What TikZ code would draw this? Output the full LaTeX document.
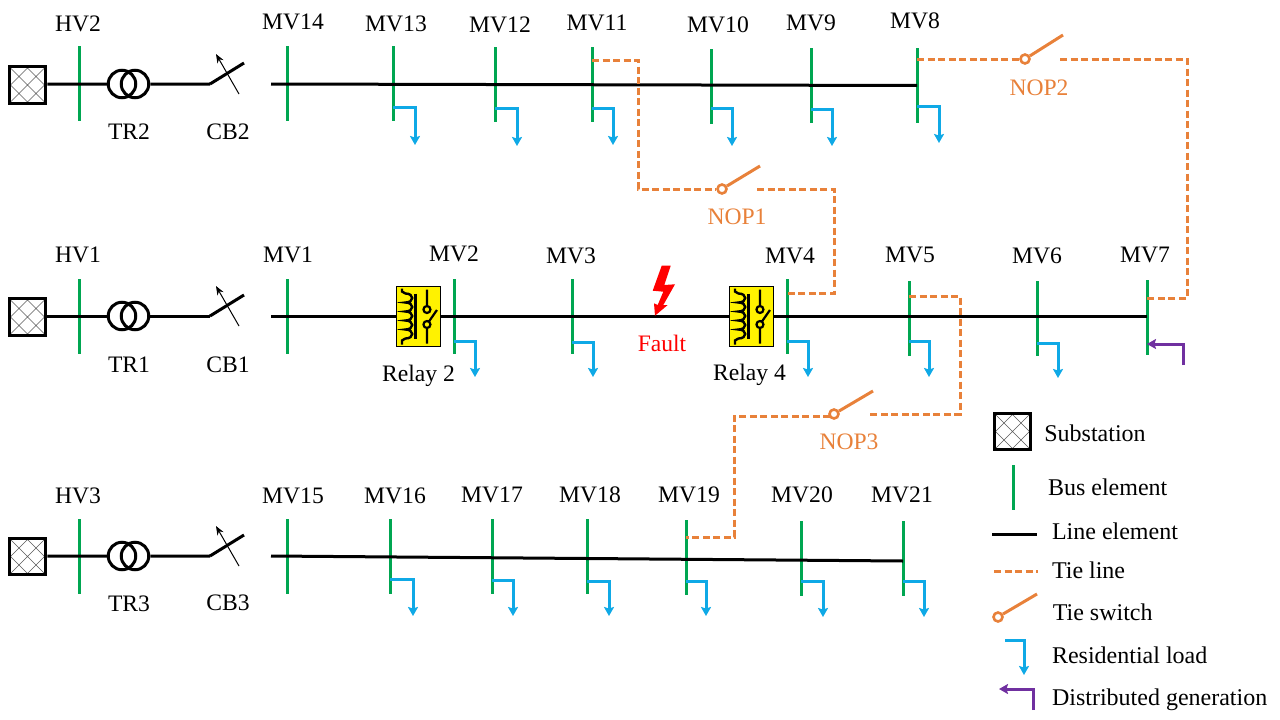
\documentclass[tikz,border=0pt]{standalone}
\usepackage{fontspec}
\setmainfont{Liberation Serif}
\usepackage{xcolor}
\usetikzlibrary{positioning,arrows.meta}

\definecolor{busgreen}{HTML}{00A651}
\definecolor{tieorange}{HTML}{E8813A}
\definecolor{loadblue}{HTML}{0FA9E6}
\definecolor{dgpurple}{HTML}{7030A0}

\begin{document}
\begin{tikzpicture}[
    x=1pt, y=-1pt,
    lbl/.style={inner sep=0pt, outer sep=0pt, font=\fontsize{23.6}{27}\selectfont},
    leglbl/.style={lbl, font=\fontsize{24}{27}\selectfont},
    substation/.style={rectangle, draw, line width=3.2pt, minimum size=36.5pt, inner sep=0pt,
        path picture={\begin{scope}[shift=(path picture bounding box.center)]
            \draw[black!65, line width=0.5pt] (-20,20) -- (20,-20) (-20,3) -- (3,-20) (-3,20) -- (20,-3)
                (-20,-20) -- (20,20) (-20,-3) -- (3,20) (-3,-20) -- (20,3);
        \end{scope}}},
    bus/.style={rectangle, fill=busgreen, minimum width=3pt, minimum height=75pt, inner sep=0pt, outer sep=0pt},
    xfmr/.style={circle, draw, line width=3pt, minimum size=27.5pt, inner sep=0pt},
    wire/.style={line width=3pt},
    tie/.style={tieorange, line width=3pt, dash pattern=on 7pt off 3.5pt},
    tiesw/.style={circle, draw=tieorange, line width=2.6pt, minimum size=9pt, inner sep=0pt},
    blade/.style={tieorange, line width=3pt},
    loadarr/.style={loadblue, line width=3pt, -{Stealth[length=9pt,width=10pt,inset=1.5pt]}},
    dgarr/.style={dgpurple, line width=3pt, -{Stealth[length=9pt,width=10pt,inset=1.5pt]}},
    relay/.style={rectangle, draw, fill=yellow, line width=1pt, minimum width=44.5pt, minimum height=59.5pt, inner sep=0pt, outer sep=0pt},
    pics/breaker/.style={code={
        \draw[wire] (0,0) -- (34,-21);
        \draw[line width=1pt, -{Stealth[length=9pt,width=7pt]}] (29,10) -- (6,-30);
    }},
    pics/relaysym/.style={code={
        \draw[line width=2.4pt] (-16.5,-28) -- (-16.5,-25) -- (-13,-23)
            .. controls (-4,-23) and (-4,-14) .. (-13,-14)
            .. controls (-4,-14) and (-4,-5) .. (-13,-5)
            .. controls (-4,-5) and (-4,4) .. (-13,4)
            .. controls (-4,4) and (-4,13) .. (-13,13)
            .. controls (-4,13) and (-4,22) .. (-13,22) -- (-16.5,24) -- (-16.5,28);
        \draw[line width=2.6pt] (-3.2,-23) -- (-3.2,22);
        \draw[line width=2.2pt] (8.5,-27) -- (8.5,-10.5) (8.5,-7) circle[radius=3.5pt]
            (8.5,8) circle[radius=3.5pt] (8.5,11.5) -- (8.5,27) (10.5,5) -- (18.5,-6.5);
    }},
]
\useasboundingbox (0,0) rectangle (1280,720);

% top feeder
\node[substation] (sub2) at (27.5,85) {};
\node[bus] (hv2) at (79,83.5) {};
\node[xfmr] (tr2a) at (122,84) {};
\node[xfmr] (tr2b) at (135,84) {};
\coordinate (cb2p) at (210,84);
\coordinate (feed2) at (271,84);
\node[bus] (mv14) at (287,83.5) {};
\node[bus, right=103pt of mv14] (mv13) {};
\node[bus, right=99pt of mv13, yshift=-1pt] (mv12) {};
\node[bus, right=94pt of mv12] (mv11) {};
\node[bus, right=116pt of mv11, yshift=-2pt] (mv10) {};
\node[bus, right=97pt of mv10, yshift=1pt] (mv9) {};
\node[bus, right=103pt of mv9] (mv8) {};

% middle feeder
\node[substation] (sub1) at (27.5,317) {};
\node[bus] (hv1) at (79,316.5) {};
\node[xfmr] (tr1a) at (122,316) {};
\node[xfmr] (tr1b) at (135,316) {};
\coordinate (cb1p) at (210,316);
\coordinate (feed1) at (271,316);
\node[bus] (mv1) at (287,316.5) {};
\node[bus, right=164pt of mv1] (mv2) {};
\node[bus, right=115pt of mv2] (mv3) {};
\node[bus, right=212pt of mv3] (mv4) {};
\node[bus, right=119pt of mv4, yshift=-2pt] (mv5) {};
\node[bus, right=125pt of mv5] (mv6) {};
\node[bus, right=107pt of mv6, yshift=1pt] (mv7) {};

% bottom feeder
\node[substation] (sub3) at (27.5,556.5) {};
\node[bus] (hv3) at (79,556) {};
\node[xfmr] (tr3a) at (122,556) {};
\node[xfmr] (tr3b) at (135,556) {};
\coordinate (cb3p) at (210,556);
\coordinate (feed3) at (271,556);
\node[bus] (mv15) at (287,556) {};
\node[bus, right=100pt of mv15] (mv16) {};
\node[bus, right=99pt of mv16, yshift=-0.5pt] (mv17) {};
\node[bus, right=92pt of mv17] (mv18) {};
\node[bus, right=96pt of mv18, yshift=-1pt] (mv19) {};
\node[bus, right=112pt of mv19, yshift=-1pt] (mv20) {};
\node[bus, right=99pt of mv20] (mv21) {};

% lines
\draw[wire] (sub2.east |- tr2a) -- (tr2a) (tr2b) -- (cb2p) (feed2) -- (mv8.center);
\draw[wire] (sub1.east |- tr1a) -- (tr1a) (tr1b) -- (cb1p) (feed1) -- (feed1 -| mv7);
\draw[wire] (sub3.east |- tr3a) -- (tr3a) (tr3b) -- (cb3p) (feed3) -- ([yshift=-2.5pt]mv21.center);
\pic at (cb2p) {breaker};
\pic at (cb1p) {breaker};
\pic at (cb3p) {breaker};

% relays
\node[relay, left=11.8pt of mv2] (relay2) {};
\node[relay, left=11.8pt of mv4] (relay4) {};
\pic at (relay2) {relaysym};
\pic at (relay4) {relaysym};

% loads
\draw[loadarr] (mv13.center) ++(0,23.5) -| ++(22,38);
\draw[loadarr] (mv12.center) ++(0,23.5) -| ++(22,38);
\draw[loadarr] (mv11.center) ++(0,23.5) -| ++(21,37);
\draw[loadarr] (mv10.center) ++(0,21.5) -| ++(21,38);
\draw[loadarr] (mv9.center) ++(0,23.5) -| ++(21,37);
\draw[loadarr] (mv8.center) ++(0,20.5) -| ++(22,37);
\draw[loadarr] (mv2.center) ++(0,24.5) -| ++(21,36);
\draw[loadarr] (mv3.center) ++(0,25.5) -| ++(21,35);
\draw[loadarr] (mv4.center) ++(0,24.5) -| ++(21,36);
\draw[loadarr] (mv5.center) ++(0,22.5) -| ++(20,36);
\draw[loadarr] (mv6.center) ++(0,24.5) -| ++(21,35);
\draw[loadarr] (mv16.center) ++(0,23) -| ++(23,37);
\draw[loadarr] (mv17.center) ++(0,23.5) -| ++(21,36);
\draw[loadarr] (mv18.center) ++(0,24.5) -| ++(22,35);
\draw[loadarr] (mv19.center) ++(0,23.5) -| ++(20,35);
\draw[loadarr] (mv20.center) ++(0,22.5) -| ++(22,36);
\draw[loadarr] (mv21.center) ++(0,22.5) -| ++(21,36);
\coordinate (dg7) at (1183,365);
\draw[dgarr] (dg7) |- ([yshift=-26.5pt]mv7.center);

% tie switches and tie lines
\node[tiesw] (nop1sw) at (722,189) {};
\node[tiesw] (nop2sw) at (1025,59) {};
\node[tiesw] (nop3sw) at (834,414) {};
\coordinate (nop1e) at (757,189);
\coordinate (nop2e) at (1060,59);
\coordinate (nop3e) at (868,414);
\coordinate (nop3w) at (830,416);
\draw[blade] (nop1sw) -- ++(38,-23);
\draw[blade] (nop2sw) -- ++(38,-24);
\draw[blade] (nop3sw) -- ++(39,-23);
\draw[tie] ([yshift=24.5pt]mv11.center) -- ++(46,0) |- (nop1sw);
\draw[tie] (nop1e) -- ++(77,0) |- ([yshift=23.5pt]mv4.center);
\draw[tie] (mv8.center |- nop2sw) -- (nop2sw);
\draw[tie] (nop2e) -- ++(127,0) |- ([yshift=19.5pt]mv7.center);
\draw[tie] ([yshift=22.5pt]mv5.center) -- ++(51,0) |- (nop3e);
\draw[tie] (nop3w) -- ++(-96,0) |- ([yshift=20.5pt]mv19.center);

% fault
\fill[red] (661.7,265.7) -- (670.7,265.7) -- (664.3,285) -- (675,284.3) -- (663.3,305) -- (667.7,305)
    -- (655,315.7) -- (654,303.3) -- (657.7,305) -- (663.3,291.7) -- (652.7,290.7) -- cycle;
\node[lbl, text=red] (faultlbl) at (662,343) {Fault};

% labels
\node[lbl, above=14pt of hv2, xshift=-1pt] (hv2lbl) {HV2};
\node[lbl, above=16pt of mv14, xshift=6pt] (mv14lbl) {MV14};
\node[lbl, above=14pt of mv13, xshift=3pt] (mv13lbl) {MV13};
\node[lbl, above=14pt of mv12, xshift=5pt] (mv12lbl) {MV12};
\node[lbl, above=16pt of mv11, xshift=5pt] (mv11lbl) {MV11};
\node[lbl, above=16pt of mv10, xshift=7pt] (mv10lbl) {MV10};
\node[lbl, above=17pt of mv9] (mv9lbl) {MV9};
\node[lbl, above=19pt of mv8, xshift=-2pt] (mv8lbl) {MV8};
\node[lbl, above=16pt of hv1, xshift=-1pt] (hv1lbl) {HV1};
\node[lbl, above=16pt of mv1, xshift=1pt] (mv1lbl) {MV1};
\node[lbl, above=17pt of mv2] (mv2lbl) {MV2};
\node[lbl, above=15pt of mv3, xshift=-1pt] (mv3lbl) {MV3};
\node[lbl, above=15pt of mv4, xshift=3pt] (mv4lbl) {MV4};
\node[lbl, above=18pt of mv5, xshift=1pt] (mv5lbl) {MV5};
\node[lbl, above=17pt of mv6] (mv6lbl) {MV6};
\node[lbl, above=17pt of mv7, xshift=-2pt] (mv7lbl) {MV7};
\node[lbl, above=15pt of hv3, xshift=-1pt] (hv3lbl) {HV3};
\node[lbl, above=15pt of mv15, xshift=6pt] (mv15lbl) {MV15};
\node[lbl, above=15pt of mv16, xshift=5pt] (mv16lbl) {MV16};
\node[lbl, above=16pt of mv17] (mv17lbl) {MV17};
\node[lbl, above=16pt of mv18, xshift=3pt] (mv18lbl) {MV18};
\node[lbl, above=17pt of mv19, xshift=3pt] (mv19lbl) {MV19};
\node[lbl, above=18pt of mv20, xshift=1pt] (mv20lbl) {MV20};
\node[lbl, above=18pt of mv21, xshift=-1pt] (mv21lbl) {MV21};
\node[lbl, below=25pt of tr2a, xshift=7pt] (tr2lbl) {TR2};
\node[lbl, below=26pt of tr1a, xshift=7pt] (tr1lbl) {TR1};
\node[lbl, below=25pt of tr3a, xshift=7pt] (tr3lbl) {TR3};
\node[lbl, below=40pt of cb2p, xshift=18pt] (cb2lbl) {CB2};
\node[lbl, below=41pt of cb1p, xshift=18pt] (cb1lbl) {CB1};
\node[lbl, below=39pt of cb3p, xshift=18pt] (cb3lbl) {CB3};
\node[lbl, below=19pt of relay2] (relay2lbl) {Relay 2};
\node[lbl, below=18pt of relay4, xshift=-2pt] (relay4lbl) {Relay 4};
\node[lbl, text=tieorange, below=14pt of nop1sw, xshift=15pt] (nop1lbl) {NOP1};
\node[lbl, text=tieorange, below=15pt of nop2sw, xshift=14pt] (nop2lbl) {NOP2};
\node[lbl, text=tieorange, below=14pt of nop3sw, xshift=15pt] (nop3lbl) {NOP3};

% legend
\node[substation] (legsub) at (1012.5,431.5) {};
\node[leglbl, right=12pt of legsub, yshift=-1.5pt] (legsublbl) {Substation};
\node[bus, minimum height=45pt] (legbus) at (1013,487.5) {};
\node[leglbl, right=33.5pt of legbus] (legbuslbl) {Bus element};
\coordinate (leglinea) at (992,534);
\coordinate (leglineb) at (1037,534);
\draw[wire] (leglinea) -- (leglineb);
\node[leglbl, right=15pt of leglineb, yshift=3pt] (leglinelbl) {Line element};
\coordinate (legtiea) at (994,571);
\coordinate (legtieb) at (1038,571);
\draw[tie] (legtiea) -- (legtieb);
\node[leglbl, right=14pt of legtieb, yshift=1pt] (legtielbl) {Tie line};
\node[tiesw] (legsw) at (998,617) {};
\draw[blade] (legsw) -- ++(39,-23);
\node[leglbl, right=49pt of legsw, yshift=5pt] (legswlbl) {Tie switch};
\coordinate (legloada) at (1005,640);
\coordinate (legloadb) at (1024,675);
\draw[loadarr] (legloada) -| (legloadb);
\node[leglbl, right=28pt of legloadb, yshift=20pt] (legloadlbl) {Residential load};
\coordinate (legdga) at (1033,710);
\coordinate (legdgb) at (999,689);
\draw[dgarr] (legdga) |- (legdgb);
\node[leglbl, right=19pt of legdga, yshift=10pt] (legdglbl) {Distributed generation};
\end{tikzpicture}
\end{document}
